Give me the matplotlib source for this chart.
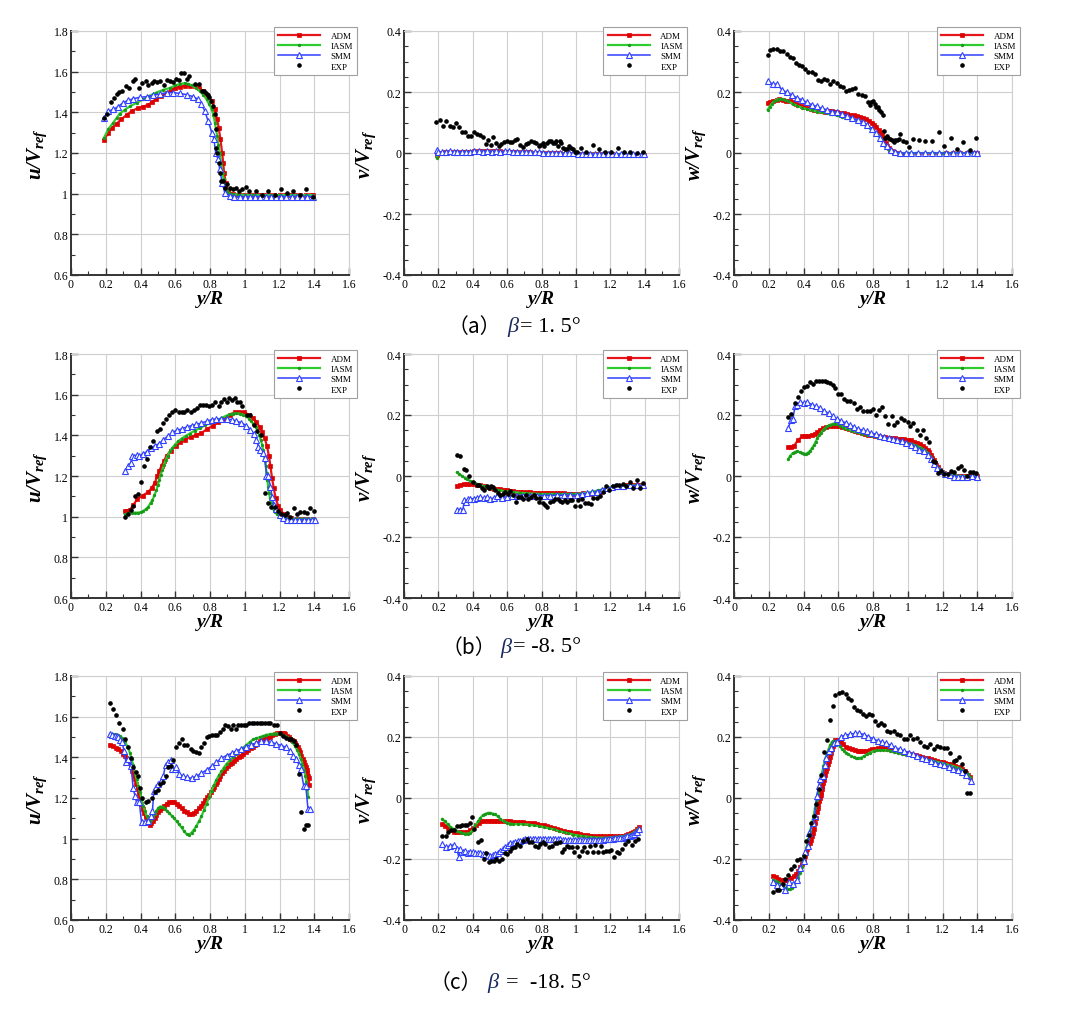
import matplotlib
matplotlib.use('Agg')
import matplotlib.pyplot as plt
from matplotlib.ticker import MultipleLocator, FuncFormatter

plt.rcParams['font.family'] = ['Liberation Serif', 'DejaVu Serif']
plt.rcParams['mathtext.fontset'] = 'custom'
plt.rcParams['mathtext.rm'] = 'Liberation Serif'
plt.rcParams['mathtext.it'] = 'Liberation Serif:italic'
plt.rcParams['mathtext.bf'] = 'Liberation Serif:bold:italic'
plt.rcParams['axes.unicode_minus'] = False

series_names = ['ADM', 'IASM', 'SMM', 'EXP']
x_ticks = [0, 0.2, 0.4, 0.6, 0.8, 1.0, 1.2, 1.4, 1.6]
u_ticks = [0.6, 0.8, 1.0, 1.2, 1.4, 1.6, 1.8]
vw_ticks = [-0.4, -0.2, 0.0, 0.2, 0.4]
caption_labels = ['（a）', '（b）', '（c）']
caption_values = ['= 1. 5°', '= -8. 5°', '=  -18. 5°']

# ---------------- (a) beta = 1.5 ----------------
ua_adm = [(0.19,1.264),(0.215,1.30),(0.238,1.325),(0.262,1.344),(0.29,1.366),(0.32,1.387),(0.35,1.407),
          (0.383,1.42),(0.416,1.428),(0.445,1.438),(0.466,1.45),(0.49,1.467),(0.52,1.48),(0.55,1.493),
          (0.573,1.51),(0.60,1.52),(0.627,1.526),(0.655,1.53),(0.684,1.53),(0.713,1.53),(0.736,1.518),
          (0.76,1.505),(0.784,1.485),(0.81,1.456),(0.828,1.415),(0.841,1.366),(0.85,1.325),(0.86,1.267),
          (0.87,1.20),(0.876,1.152),(0.881,1.103),(0.891,1.054),(0.904,1.013),(0.933,0.997),(0.96,0.995),
          (0.99,0.994),(1.02,0.994),(1.05,0.993),(1.08,0.993),(1.11,0.993),(1.14,0.993),(1.17,0.993),
          (1.20,0.993),(1.23,0.993),(1.26,0.993),(1.29,0.993),(1.32,0.993),(1.35,0.993),(1.38,0.993),(1.395,0.993)]
ua_iasm = [(0.19,1.275),(0.215,1.318),(0.243,1.349),(0.262,1.372),(0.28,1.393),(0.31,1.413),(0.34,1.43),
           (0.38,1.448),(0.416,1.464),(0.45,1.48),(0.49,1.497),(0.53,1.51),(0.57,1.52),(0.60,1.532),
           (0.627,1.54),(0.655,1.543),(0.675,1.54),(0.694,1.533),(0.72,1.52),(0.74,1.505),(0.76,1.487),
           (0.78,1.464),(0.795,1.44),(0.81,1.415),(0.82,1.385),(0.828,1.349),(0.835,1.318),(0.841,1.284),
           (0.848,1.24),(0.856,1.20),(0.864,1.15),(0.872,1.103),(0.878,1.07),(0.885,1.038),(0.895,1.017),
           (0.904,1.005),(0.92,0.999),(0.933,0.997),(0.96,0.995),(1.0,0.994),(1.05,0.993),(1.10,0.993),
           (1.15,0.993),(1.20,0.993),(1.25,0.993),(1.30,0.993),(1.35,0.993),(1.395,0.993)]
ua_smm = [(0.19,1.374),(0.215,1.405),(0.243,1.415),(0.272,1.428),(0.30,1.448),(0.33,1.459),(0.358,1.467),
          (0.397,1.474),(0.435,1.477),(0.473,1.484),(0.512,1.49),(0.55,1.497),(0.588,1.497),(0.627,1.493),
          (0.665,1.487),(0.703,1.477),(0.732,1.464),(0.751,1.439),(0.77,1.407),(0.789,1.357),(0.812,1.297),
          (0.822,1.27),(0.833,1.20),(0.847,1.169),(0.856,1.12),(0.87,1.054),(0.885,1.005),(0.914,0.989),
          (0.94,0.985),(0.97,0.985),(1.0,0.985),(1.03,0.985),(1.06,0.985),(1.09,0.986),(1.12,0.986),
          (1.15,0.986),(1.18,0.986),(1.21,0.986),(1.24,0.986),(1.27,0.986),(1.30,0.986),(1.33,0.986),
          (1.36,0.986),(1.395,0.986)]
ua_exp = [(0.19,1.372),(0.209,1.393),(0.228,1.451),(0.247,1.47),(0.262,1.489),(0.276,1.50),(0.295,1.505),
          (0.316,1.53),(0.335,1.521),(0.354,1.554),(0.37,1.562),(0.39,1.521),(0.406,1.543),(0.429,1.552),
          (0.445,1.533),(0.464,1.546),(0.479,1.554),(0.496,1.551),(0.514,1.552),(0.535,1.533),(0.55,1.559),
          (0.569,1.552),(0.586,1.551),(0.604,1.566),(0.621,1.557),(0.634,1.592),(0.65,1.592),(0.665,1.566),
          (0.678,1.579),(0.713,1.541),(0.738,1.541),(0.755,1.503),(0.768,1.503),(0.778,1.493),(0.789,1.484),
          (0.795,1.475),(0.807,1.454),(0.818,1.431),(0.826,1.39),(0.832,1.316),(0.837,1.226),(0.841,1.20),
          (0.849,1.152),(0.856,1.103),(0.864,1.062),(0.876,1.062),(0.887,1.03),(0.895,1.046),(0.914,1.03),
          (0.933,1.021),(0.952,1.03),(0.968,1.013),(0.985,1.021),(1.006,1.033),(1.025,1.013),(1.062,1.013),
          (1.10,0.992),(1.136,1.013),(1.173,0.993),(1.207,1.025),(1.244,1.002),(1.278,1.013),(1.316,0.992),
          (1.355,1.025),(1.393,0.985)]

va_adm = [(0.19,-0.005),(0.21,0.0),(0.235,0.002),(0.26,0.002),(0.285,0.003),(0.31,0.003),(0.335,0.004),
          (0.36,0.004),(0.385,0.004),(0.41,0.005),(0.435,0.005),(0.46,0.005),(0.485,0.005),(0.51,0.005),
          (0.535,0.005),(0.56,0.005),(0.585,0.004),(0.61,0.004),(0.635,0.004),(0.66,0.003),(0.685,0.003),
          (0.71,0.002),(0.735,0.002),(0.76,0.001),(0.785,0.001),(0.81,0.0),(0.835,0.0),(0.86,-0.001),
          (0.885,-0.001),(0.91,-0.001),(0.935,-0.002),(0.96,-0.002),(0.985,-0.002),(1.01,-0.002),
          (1.035,-0.003),(1.06,-0.003),(1.085,-0.003),(1.11,-0.003),(1.135,-0.004),(1.16,-0.004),
          (1.185,-0.004),(1.21,-0.004),(1.235,-0.005),(1.26,-0.005),(1.285,-0.005),(1.31,-0.005),
          (1.335,-0.005),(1.36,-0.005),(1.385,-0.005),(1.395,-0.005)]
va_iasm = [(0.19,-0.015),(0.20,-0.004),(0.22,0.0),(0.25,0.001),(0.30,0.002),(0.35,0.003),(0.40,0.004),
           (0.45,0.004),(0.50,0.004),(0.55,0.004),(0.60,0.003),(0.65,0.003),(0.70,0.002),(0.75,0.001),
           (0.80,0.0),(0.85,-0.001),(0.90,-0.001),(0.95,-0.002),(1.0,-0.002),(1.05,-0.003),(1.10,-0.003),
           (1.15,-0.003),(1.20,-0.004),(1.25,-0.004),(1.30,-0.004),(1.35,-0.005),(1.395,-0.005)]
va_smm = [(0.19,0.01),(0.20,0.003),(0.22,0.002),(0.245,0.002),(0.265,0.006),(0.29,0.003),(0.31,0.004),
          (0.335,0.004),(0.36,0.003),(0.385,0.004),(0.41,0.006),(0.435,0.007),(0.46,0.004),(0.485,0.008),
          (0.51,0.004),(0.535,0.005),(0.56,0.004),(0.585,0.005),(0.61,0.005),(0.635,0.004),(0.66,0.004),
          (0.685,0.003),(0.71,0.003),(0.735,0.002),(0.76,0.002),(0.785,0.002),(0.81,0.001),(0.835,0.001),
          (0.86,0.0),(0.885,0.0),(0.91,0.0),(0.935,-0.001),(0.96,-0.001),(0.985,-0.001),(1.01,-0.002),
          (1.035,-0.002),(1.06,-0.002),(1.085,-0.002),(1.11,-0.003),(1.135,-0.003),(1.16,-0.003),
          (1.185,-0.003),(1.21,-0.003),(1.235,-0.004),(1.26,-0.004),(1.285,-0.004),(1.31,-0.004),
          (1.335,-0.004),(1.36,-0.004),(1.385,-0.004),(1.395,-0.004)]
va_exp = [(0.188,0.101),(0.207,0.109),(0.227,0.088),(0.246,0.104),(0.265,0.09),(0.283,0.084),(0.302,0.10),
          (0.322,0.084),(0.337,0.07),(0.354,0.07),(0.372,0.057),(0.389,0.057),(0.405,0.068),(0.424,0.061),
          (0.44,0.059),(0.457,0.051),(0.477,0.03),(0.49,0.041),(0.507,0.027),(0.517,0.054),(0.535,0.034),
          (0.55,0.024),(0.566,0.031),(0.583,0.037),(0.599,0.038),(0.614,0.037),(0.628,0.037),(0.647,0.042),
          (0.66,0.045),(0.676,0.025),(0.692,0.02),(0.709,0.031),(0.724,0.034),(0.74,0.04),(0.755,0.037),
          (0.769,0.032),(0.783,0.023),(0.794,0.025),(0.808,0.032),(0.817,0.023),(0.831,0.032),(0.843,0.038),
          (0.854,0.04),(0.866,0.032),(0.876,0.034),(0.885,0.039),(0.895,0.023),(0.905,0.039),(0.916,0.032),
          (0.924,0.018),(0.936,0.014),(0.947,0.012),(0.959,0.023),(0.97,0.018),(0.982,0.012),(0.996,0.004),
          (1.009,0.003),(1.029,0.016),(1.06,0.003),(1.102,0.025),(1.137,0.012),(1.17,0.003),(1.203,0.004),
          (1.244,0.018),(1.28,0.003),(1.315,0.004),(1.354,0.001),(1.393,0.004)]

wa_adm = [(0.194,0.164),(0.21,0.168),(0.227,0.172),(0.245,0.175),(0.261,0.177),(0.28,0.175),(0.30,0.172),
          (0.32,0.169),(0.338,0.166),(0.355,0.161),(0.371,0.157),(0.39,0.154),(0.405,0.151),(0.425,0.147),
          (0.442,0.144),(0.462,0.142),(0.482,0.14),(0.503,0.138),(0.524,0.136),(0.545,0.138),(0.563,0.137),
          (0.58,0.135),(0.595,0.133),(0.615,0.132),(0.634,0.131),(0.65,0.128),(0.668,0.126),(0.69,0.123),
          (0.707,0.12),(0.727,0.117),(0.745,0.115),(0.762,0.111),(0.778,0.106),(0.793,0.10),(0.807,0.093),
          (0.82,0.085),(0.832,0.076),(0.842,0.068),(0.851,0.06),(0.858,0.05),(0.866,0.041),(0.873,0.032),
          (0.88,0.024),(0.89,0.017),(0.899,0.011),(0.91,0.006),(0.922,0.002),(0.94,0.0),(0.98,-0.002),
          (1.02,-0.002),(1.06,-0.002),(1.10,-0.002),(1.14,-0.002),(1.18,-0.002),(1.22,-0.001),(1.26,-0.001),
          (1.30,-0.001),(1.34,0.0),(1.38,0.0),(1.397,0.0)]
wa_iasm = [(0.194,0.142),(0.205,0.152),(0.217,0.162),(0.23,0.169),(0.246,0.175),(0.26,0.177),(0.275,0.177),
           (0.295,0.173),(0.313,0.169),(0.337,0.162),(0.361,0.155),(0.39,0.149),(0.419,0.144),(0.448,0.14),
           (0.476,0.136),(0.505,0.133),(0.534,0.131),(0.563,0.127),(0.592,0.123),(0.62,0.119),(0.65,0.115),
           (0.68,0.11),(0.707,0.106),(0.73,0.101),(0.749,0.096),(0.768,0.089),(0.784,0.082),(0.80,0.074),
           (0.816,0.066),(0.83,0.058),(0.841,0.051),(0.85,0.042),(0.86,0.033),(0.87,0.024),(0.88,0.016),
           (0.89,0.009),(0.903,0.004),(0.915,0.001),(0.928,0.0),(0.96,0.0),(1.0,0.0),(1.05,0.0),(1.10,0.0),
           (1.15,0.0),(1.20,0.0),(1.25,0.0),(1.30,0.0),(1.35,0.0),(1.397,0.0)]
wa_smm = [(0.194,0.236),(0.223,0.226),(0.25,0.226),(0.275,0.207),(0.303,0.199),(0.332,0.191),(0.361,0.181),
          (0.39,0.175),(0.419,0.166),(0.448,0.158),(0.476,0.153),(0.505,0.146),(0.534,0.142),(0.563,0.136),
          (0.595,0.134),(0.624,0.128),(0.653,0.12),(0.682,0.115),(0.711,0.107),(0.74,0.102),(0.765,0.093),
          (0.793,0.079),(0.818,0.066),(0.841,0.049),(0.86,0.033),(0.88,0.022),(0.903,0.009),(0.928,0.003),
          (0.957,0.0),(0.99,0.0),(1.02,0.0),(1.06,0.0),(1.10,0.0),(1.14,0.0),(1.18,0.0),(1.22,0.0),
          (1.26,0.0),(1.30,0.0),(1.34,0.0),(1.38,0.0),(1.397,0.0)]
wa_exp = [(0.194,0.321),(0.207,0.338),(0.227,0.342),(0.246,0.342),(0.265,0.334),(0.284,0.333),(0.303,0.323),
          (0.323,0.314),(0.342,0.31),(0.357,0.295),(0.376,0.287),(0.392,0.286),(0.411,0.275),(0.428,0.266),
          (0.447,0.265),(0.466,0.26),(0.482,0.24),(0.499,0.236),(0.518,0.243),(0.538,0.24),(0.553,0.226),
          (0.572,0.235),(0.592,0.229),(0.611,0.221),(0.626,0.215),(0.645,0.203),(0.661,0.207),(0.678,0.211),
          (0.697,0.213),(0.716,0.194),(0.736,0.191),(0.755,0.186),(0.77,0.166),(0.78,0.158),(0.789,0.168),
          (0.799,0.169),(0.809,0.162),(0.818,0.151),(0.828,0.15),(0.837,0.142),(0.847,0.135),(0.855,0.123),
          (0.861,0.072),(0.87,0.049),(0.88,0.055),(0.889,0.049),(0.899,0.046),(0.909,0.041),(0.918,0.035),
          (0.928,0.044),(0.937,0.041),(0.947,0.046),(0.957,0.063),(0.972,0.038),(0.991,0.037),(1.01,0.019),
          (1.03,0.046),(1.064,0.041),(1.10,0.039),(1.139,0.04),(1.178,0.069),(1.21,0.022),(1.249,0.048),
          (1.283,0.014),(1.318,0.036),(1.356,0.011),(1.393,0.048)]

# ---------------- (b) beta = -8.5 ----------------
ub_adm = [(0.31,1.026),(0.325,1.03),(0.339,1.033),(0.358,1.057),(0.381,1.086),(0.412,1.104),(0.441,1.119),
          (0.464,1.14),(0.483,1.168),(0.496,1.198),(0.508,1.226),(0.521,1.25),(0.535,1.275),(0.55,1.30),
          (0.573,1.324),(0.602,1.349),(0.627,1.365),(0.655,1.379),(0.688,1.392),(0.722,1.402),(0.751,1.412),
          (0.784,1.431),(0.818,1.448),(0.847,1.464),(0.88,1.48),(0.914,1.502),(0.943,1.514),(0.966,1.515),
          (0.994,1.514),(1.023,1.502),(1.048,1.486),(1.067,1.464),(1.086,1.441),(1.102,1.415),(1.115,1.387),
          (1.128,1.346),(1.14,1.296),(1.148,1.247),(1.157,1.19),(1.167,1.14),(1.178,1.09),(1.192,1.054),
          (1.205,1.033),(1.224,1.013),(1.245,1.0),(1.268,0.992),(1.30,0.99),(1.33,0.99),(1.36,0.99),(1.395,0.99)]
ub_iasm = [(0.31,1.011),(0.33,1.016),(0.349,1.02),(0.368,1.02),(0.387,1.02),(0.40,1.022),(0.416,1.028),
           (0.432,1.038),(0.445,1.049),(0.458,1.068),(0.469,1.082),(0.48,1.105),(0.492,1.131),(0.50,1.156),
           (0.508,1.181),(0.516,1.205),(0.525,1.23),(0.535,1.255),(0.544,1.277),(0.556,1.30),(0.569,1.321),
           (0.583,1.338),(0.598,1.354),(0.616,1.37),(0.636,1.384),(0.66,1.397),(0.684,1.409),(0.712,1.423),
           (0.742,1.436),(0.77,1.449),(0.799,1.461),(0.823,1.469),(0.847,1.477),(0.87,1.487),(0.895,1.497),
           (0.915,1.503),(0.933,1.507),(0.952,1.508),(0.971,1.507),(0.99,1.502),(1.01,1.494),(1.025,1.482),
           (1.038,1.469),(1.05,1.456),(1.063,1.441),(1.073,1.423),(1.082,1.403),(1.092,1.378),(1.10,1.354),
           (1.105,1.33),(1.11,1.305),(1.116,1.275),(1.121,1.247),(1.126,1.215),(1.13,1.181),(1.135,1.148),
           (1.14,1.115),(1.146,1.09),(1.152,1.066),(1.16,1.048),(1.167,1.033),(1.176,1.022),(1.186,1.013),
           (1.20,1.005),(1.211,1.0),(1.225,0.995),(1.24,0.992),(1.27,0.99),(1.30,0.99),(1.33,0.99),
           (1.36,0.99),(1.395,0.99)]
ub_smm = [(0.31,1.226),(0.33,1.25),(0.343,1.263),(0.352,1.296),(0.364,1.293),(0.377,1.304),(0.393,1.296),
          (0.412,1.309),(0.435,1.319),(0.458,1.337),(0.483,1.349),(0.508,1.359),(0.531,1.379),(0.56,1.398),
          (0.584,1.415),(0.611,1.425),(0.636,1.431),(0.665,1.441),(0.694,1.448),(0.722,1.454),(0.751,1.461),
          (0.78,1.469),(0.809,1.477),(0.837,1.481),(0.866,1.481),(0.895,1.481),(0.924,1.477),(0.952,1.471),
          (0.981,1.461),(1.01,1.448),(1.033,1.428),(1.054,1.407),(1.067,1.379),(1.079,1.343),(1.09,1.329),
          (1.106,1.313),(1.117,1.288),(1.125,1.201),(1.136,1.198),(1.148,1.148),(1.157,1.099),(1.167,1.058),
          (1.182,1.038),(1.201,1.008),(1.22,0.992),(1.243,0.984),(1.265,0.984),(1.29,0.984),(1.315,0.985),
          (1.34,0.985),(1.365,0.985),(1.385,0.985),(1.403,0.985)]
ub_exp = [(0.31,1.0),(0.33,1.013),(0.345,1.033),(0.358,1.054),(0.37,1.102),(0.385,1.112),(0.402,1.17),
          (0.42,1.25),(0.437,1.283),(0.456,1.342),(0.473,1.374),(0.494,1.42),(0.512,1.431),(0.529,1.461),
          (0.546,1.482),(0.563,1.502),(0.582,1.514),(0.60,1.523),(0.619,1.514),(0.636,1.514),(0.651,1.514),
          (0.669,1.523),(0.688,1.515),(0.709,1.523),(0.728,1.535),(0.743,1.551),(0.759,1.551),(0.776,1.551),
          (0.793,1.543),(0.811,1.551),(0.83,1.563),(0.849,1.543),(0.864,1.563),(0.883,1.579),(0.899,1.563),
          (0.91,1.584),(0.925,1.576),(0.943,1.584),(0.954,1.563),(0.971,1.563),(0.987,1.543),(1.014,1.502),
          (1.029,1.502),(1.052,1.453),(1.071,1.42),(1.096,1.403),(1.119,1.118),(1.136,1.069),(1.153,1.049),
          (1.173,1.049),(1.192,1.028),(1.211,1.013),(1.23,1.008),(1.243,1.016),(1.263,1.0),(1.282,1.041),
          (1.301,1.013),(1.32,1.021),(1.339,1.021),(1.358,1.016),(1.378,1.041),(1.397,1.03)]

vb_adm = [(0.308,-0.032),(0.327,-0.029),(0.347,-0.027),(0.366,-0.026),(0.385,-0.025),(0.405,-0.027),
          (0.424,-0.029),(0.444,-0.031),(0.463,-0.034),(0.482,-0.037),(0.502,-0.039),(0.521,-0.041),
          (0.54,-0.042),(0.56,-0.044),(0.579,-0.045),(0.599,-0.047),(0.618,-0.049),(0.637,-0.05),
          (0.657,-0.051),(0.676,-0.052),(0.695,-0.053),(0.715,-0.054),(0.734,-0.054),(0.754,-0.055),
          (0.773,-0.055),(0.792,-0.055),(0.812,-0.055),(0.831,-0.055),(0.85,-0.055),(0.87,-0.056),
          (0.889,-0.057),(0.908,-0.057),(0.928,-0.057),(0.947,-0.058),(0.967,-0.058),(0.986,-0.058),
          (1.005,-0.058),(1.025,-0.058),(1.044,-0.057),(1.063,-0.058),(1.083,-0.059),(1.102,-0.057),
          (1.122,-0.054),(1.141,-0.051),(1.16,-0.048),(1.18,-0.043),(1.199,-0.039),(1.218,-0.036),
          (1.238,-0.034),(1.257,-0.033),(1.277,-0.032),(1.296,-0.031),(1.315,-0.031),(1.335,-0.031),
          (1.354,-0.031),(1.373,-0.031),(1.393,-0.031)]
vb_iasm = [(0.308,0.012),(0.322,0.006),(0.337,0.001),(0.352,-0.005),(0.366,-0.01),(0.385,-0.016),
           (0.405,-0.021),(0.424,-0.026),(0.444,-0.03),(0.463,-0.034),(0.482,-0.037),(0.502,-0.04),
           (0.521,-0.042),(0.55,-0.046),(0.579,-0.049),(0.608,-0.051),(0.637,-0.053),(0.676,-0.055),
           (0.715,-0.057),(0.754,-0.058),(0.792,-0.059),(0.831,-0.059),(0.87,-0.059),(0.908,-0.059),
           (0.947,-0.059),(0.986,-0.059),(1.025,-0.058),(1.063,-0.055),(1.102,-0.051),(1.131,-0.047),
           (1.16,-0.043),(1.189,-0.038),(1.218,-0.034),(1.257,-0.032),(1.296,-0.031),(1.345,-0.031),
           (1.393,-0.031)]
vb_smm = [(0.308,-0.11),(0.327,-0.11),(0.343,-0.11),(0.351,-0.079),(0.362,-0.084),(0.37,-0.076),
          (0.385,-0.076),(0.405,-0.074),(0.424,-0.073),(0.444,-0.068),(0.463,-0.073),(0.482,-0.068),
          (0.502,-0.076),(0.521,-0.072),(0.54,-0.065),(0.569,-0.071),(0.599,-0.068),(0.628,-0.065),
          (0.657,-0.064),(0.695,-0.064),(0.734,-0.064),(0.773,-0.064),(0.812,-0.064),(0.85,-0.064),
          (0.889,-0.063),(0.928,-0.063),(0.967,-0.063),(1.005,-0.063),(1.034,-0.06),(1.063,-0.057),
          (1.092,-0.054),(1.122,-0.051),(1.15,-0.045),(1.18,-0.04),(1.209,-0.037),(1.238,-0.034),
          (1.277,-0.032),(1.315,-0.031),(1.354,-0.031),(1.393,-0.031)]
vb_exp = [(0.31,0.07),(0.327,0.065),(0.347,0.023),(0.362,0.019),(0.378,0.001),(0.401,-0.021),(0.424,-0.031),
          (0.436,-0.031),(0.451,-0.04),(0.467,-0.045),(0.482,-0.034),(0.496,-0.04),(0.508,-0.032),
          (0.517,-0.037),(0.531,-0.045),(0.544,-0.057),(0.56,-0.062),(0.575,-0.059),(0.589,-0.054),
          (0.604,-0.059),(0.618,-0.048),(0.633,-0.062),(0.651,-0.084),(0.666,-0.07),(0.682,-0.068),
          (0.695,-0.076),(0.711,-0.062),(0.724,-0.076),(0.74,-0.068),(0.754,-0.062),(0.769,-0.071),
          (0.783,-0.084),(0.794,-0.071),(0.806,-0.088),(0.821,-0.095),(0.833,-0.101),(0.85,-0.086),
          (0.864,-0.081),(0.879,-0.076),(0.895,-0.076),(0.908,-0.081),(0.922,-0.084),(0.938,-0.078),
          (0.951,-0.086),(0.967,-0.078),(0.98,-0.078),(0.996,-0.098),(1.011,-0.078),(1.025,-0.098),
          (1.038,-0.076),(1.054,-0.09),(1.069,-0.088),(1.087,-0.093),(1.102,-0.073),(1.122,-0.073),
          (1.141,-0.064),(1.156,-0.051),(1.176,-0.034),(1.195,-0.045),(1.214,-0.034),(1.234,-0.029),
          (1.253,-0.031),(1.273,-0.025),(1.292,-0.034),(1.315,-0.021),(1.335,-0.04),(1.354,-0.012),
          (1.373,-0.04),(1.393,-0.023)]

wb_adm = [(0.313,0.094),(0.33,0.096),(0.346,0.099),(0.367,0.117),(0.394,0.13),(0.41,0.131),(0.428,0.132),
          (0.447,0.135),(0.467,0.138),(0.48,0.145),(0.496,0.152),(0.513,0.156),(0.53,0.16),(0.55,0.163),
          (0.569,0.165),(0.587,0.165),(0.605,0.163),(0.624,0.16),(0.643,0.157),(0.66,0.154),(0.678,0.152),
          (0.697,0.148),(0.716,0.145),(0.735,0.142),(0.755,0.139),(0.774,0.136),(0.793,0.133),(0.812,0.131),
          (0.832,0.13),(0.851,0.128),(0.87,0.127),(0.89,0.126),(0.909,0.125),(0.928,0.123),(0.947,0.122),
          (0.963,0.121),(0.98,0.121),(1.0,0.119),(1.018,0.117),(1.035,0.113),(1.053,0.108),(1.07,0.104),
          (1.085,0.099),(1.10,0.093),(1.114,0.086),(1.125,0.078),(1.135,0.069),(1.142,0.06),(1.149,0.051),
          (1.157,0.044),(1.164,0.037),(1.175,0.028),(1.187,0.02),(1.198,0.014),(1.21,0.009),(1.225,0.006),
          (1.241,0.004),(1.26,0.002),(1.279,0.001),(1.30,0.0),(1.318,0.0),(1.34,0.0),(1.36,0.0),(1.38,0.0),
          (1.398,0.0)]
wb_iasm = [(0.313,0.057),(0.325,0.067),(0.338,0.075),(0.352,0.079),(0.365,0.081),(0.378,0.078),(0.39,0.075),
           (0.403,0.073),(0.415,0.073),(0.427,0.077),(0.438,0.083),(0.45,0.092),(0.461,0.102),(0.47,0.113),
           (0.48,0.124),(0.49,0.133),(0.50,0.141),(0.512,0.15),(0.524,0.157),(0.538,0.163),(0.553,0.168),
           (0.567,0.171),(0.582,0.172),(0.596,0.169),(0.611,0.165),(0.63,0.159),(0.649,0.154),(0.678,0.148),
           (0.707,0.143),(0.736,0.139),(0.765,0.136),(0.793,0.132),(0.822,0.128),(0.851,0.125),(0.88,0.121),
           (0.909,0.118),(0.937,0.116),(0.966,0.112),(0.995,0.108),(1.024,0.104),(1.053,0.099),(1.078,0.092),
           (1.10,0.084),(1.115,0.075),(1.129,0.064),(1.14,0.055),(1.149,0.048),(1.158,0.04),(1.168,0.031),
           (1.18,0.024),(1.191,0.018),(1.204,0.013),(1.216,0.009),(1.23,0.006),(1.245,0.004),(1.264,0.002),
           (1.283,0.001),(1.31,0.0),(1.341,0.0),(1.37,0.0),(1.398,0.0)]
wb_smm = [(0.313,0.157),(0.327,0.185),(0.338,0.187),(0.352,0.229),(0.365,0.234),(0.38,0.242),(0.40,0.24),
          (0.423,0.242),(0.448,0.234),(0.473,0.229),(0.496,0.223),(0.519,0.214),(0.544,0.205),(0.569,0.196),
          (0.592,0.187),(0.617,0.181),(0.642,0.174),(0.667,0.167),(0.692,0.161),(0.716,0.154),(0.741,0.15),
          (0.766,0.146),(0.791,0.141),(0.816,0.137),(0.841,0.132),(0.866,0.128),(0.891,0.125),(0.916,0.121),
          (0.941,0.117),(0.966,0.114),(0.991,0.108),(1.016,0.103),(1.041,0.095),(1.066,0.086),(1.091,0.081),
          (1.114,0.07),(1.133,0.057),(1.149,0.039),(1.168,0.026),(1.191,0.015),(1.216,0.007),(1.241,0.003),
          (1.264,-0.002),(1.287,-0.002),(1.312,-0.002),(1.341,-0.002),(1.37,0.0),(1.398,-0.002)]
wb_exp = [(0.313,0.194),(0.33,0.202),(0.35,0.24),(0.367,0.26),(0.386,0.278),(0.401,0.291),(0.419,0.295),
          (0.438,0.309),(0.457,0.302),(0.474,0.311),(0.49,0.311),(0.505,0.31),(0.521,0.31),(0.538,0.308),
          (0.553,0.304),(0.569,0.30),(0.584,0.289),(0.599,0.27),(0.615,0.268),(0.634,0.253),(0.649,0.247),
          (0.668,0.246),(0.688,0.24),(0.707,0.22),(0.726,0.225),(0.745,0.214),(0.764,0.212),(0.784,0.212),
          (0.799,0.221),(0.816,0.20),(0.834,0.217),(0.851,0.225),(0.87,0.198),(0.889,0.17),(0.909,0.198),
          (0.922,0.166),(0.941,0.178),(0.96,0.19),(0.98,0.183),(0.999,0.177),(1.014,0.163),(1.033,0.174),
          (1.053,0.15),(1.072,0.136),(1.087,0.15),(1.106,0.125),(1.124,0.11),(1.143,0.05),(1.158,0.047),
          (1.172,0.009),(1.191,0.015),(1.21,0.008),(1.229,0.006),(1.249,0.015),(1.268,0.012),(1.287,0.026),
          (1.306,0.033),(1.322,0.02),(1.341,0.001),(1.36,0.012),(1.376,0.013),(1.395,0.009)]

# ---------------- (c) beta = -18.5 ----------------
uc_adm = [(0.224,1.461),(0.24,1.455),(0.257,1.448),(0.27,1.44),(0.285,1.43),(0.298,1.418),(0.31,1.405),
          (0.322,1.39),(0.333,1.376),(0.343,1.356),(0.352,1.335),(0.36,1.315),(0.368,1.294),(0.376,1.27),
          (0.383,1.244),(0.39,1.22),(0.397,1.195),(0.405,1.17),(0.412,1.146),(0.42,1.125),(0.429,1.105),
          (0.44,1.085),(0.452,1.068),(0.463,1.075),(0.473,1.085),(0.483,1.10),(0.492,1.116),(0.502,1.13),
          (0.512,1.141),(0.524,1.152),(0.536,1.162),(0.55,1.172),(0.565,1.179),(0.58,1.181),(0.594,1.179),
          (0.608,1.172),(0.623,1.162),(0.637,1.15),(0.651,1.138),(0.665,1.13),(0.68,1.121),(0.695,1.121),
          (0.709,1.126),(0.722,1.136),(0.736,1.149),(0.749,1.162),(0.761,1.175),(0.773,1.19),(0.784,1.203),
          (0.795,1.215),(0.805,1.228),(0.815,1.242),(0.824,1.256),(0.833,1.268),(0.841,1.28),(0.85,1.295),
          (0.86,1.31),(0.87,1.323),(0.879,1.335),(0.891,1.346),(0.904,1.356),(0.917,1.365),(0.929,1.373),
          (0.94,1.382),(0.952,1.392),(0.965,1.40),(0.977,1.409),(0.991,1.417),(1.006,1.425),(1.02,1.435),
          (1.035,1.445),(1.046,1.453),(1.058,1.461),(1.072,1.47),(1.086,1.478),(1.10,1.485),(1.115,1.491),
          (1.13,1.497),(1.144,1.502),(1.158,1.509),(1.173,1.516),(1.187,1.519),(1.201,1.52),(1.213,1.521),
          (1.224,1.52),(1.234,1.514),(1.244,1.507),(1.254,1.50),(1.263,1.491),(1.273,1.485),(1.282,1.478),
          (1.29,1.47),(1.297,1.461),(1.304,1.45),(1.311,1.438),(1.318,1.424),(1.326,1.409),(1.333,1.393),
          (1.339,1.376),(1.345,1.363),(1.351,1.351),(1.356,1.336),(1.36,1.322),(1.365,1.31),(1.37,1.297),
          (1.37,1.264)]
uc_iasm = [(0.224,1.511),(0.238,1.513),(0.253,1.514),(0.268,1.51),(0.282,1.504),(0.296,1.493),(0.31,1.478),
           (0.325,1.453),(0.339,1.422),(0.349,1.39),(0.358,1.36),(0.368,1.327),(0.377,1.294),(0.387,1.26),
           (0.397,1.228),(0.406,1.195),(0.416,1.162),(0.425,1.136),(0.435,1.113),(0.445,1.095),(0.454,1.08),
           (0.463,1.09),(0.473,1.105),(0.482,1.122),(0.492,1.138),(0.502,1.15),(0.512,1.158),(0.521,1.158),
           (0.531,1.154),(0.54,1.147),(0.55,1.138),(0.565,1.126),(0.579,1.113),(0.594,1.10),(0.608,1.085),
           (0.622,1.07),(0.636,1.055),(0.65,1.038),(0.665,1.022),(0.68,1.02),(0.694,1.03),(0.708,1.045),
           (0.722,1.063),(0.737,1.086),(0.751,1.11),(0.765,1.14),(0.78,1.17),(0.794,1.203),(0.809,1.236),
           (0.823,1.264),(0.837,1.29),(0.851,1.311),(0.866,1.331),(0.88,1.35),(0.895,1.368),(0.914,1.385),
           (0.933,1.401),(0.952,1.417),(0.971,1.433),(0.99,1.447),(1.01,1.461),(1.029,1.475),(1.048,1.488),
           (1.067,1.494),(1.086,1.499),(1.105,1.505),(1.125,1.511),(1.144,1.514),(1.163,1.516),(1.182,1.517),
           (1.201,1.516),(1.215,1.512),(1.23,1.507),(1.245,1.498),(1.259,1.488),(1.274,1.474),(1.288,1.458),
           (1.30,1.438),(1.312,1.417),(1.322,1.393),(1.332,1.368),(1.341,1.34),(1.349,1.31),(1.355,1.277),
           (1.36,1.244),(1.366,1.206)]
uc_smm = [(0.224,1.516),(0.238,1.512),(0.253,1.507),(0.262,1.503),(0.272,1.499),(0.284,1.487),(0.295,1.474),
          (0.305,1.43),(0.316,1.376),(0.33,1.392),(0.345,1.359),(0.358,1.248),(0.368,1.21),(0.377,1.179),
          (0.393,1.179),(0.406,1.08),(0.425,1.08),(0.445,1.088),(0.458,1.113),(0.469,1.138),(0.477,1.236),
          (0.489,1.252),(0.502,1.269),(0.517,1.285),(0.531,1.307),(0.544,1.363),(0.56,1.376),(0.573,1.387),
          (0.584,1.343),(0.598,1.343),(0.607,1.351),(0.623,1.318),(0.646,1.307),(0.669,1.302),(0.694,1.297),
          (0.722,1.307),(0.751,1.322),(0.78,1.338),(0.809,1.356),(0.837,1.376),(0.866,1.396),(0.895,1.409),
          (0.924,1.42),(0.952,1.432),(0.981,1.442),(1.01,1.453),(1.038,1.463),(1.067,1.471),(1.096,1.478),
          (1.125,1.478),(1.153,1.474),(1.182,1.466),(1.211,1.458),(1.236,1.45),(1.259,1.433),(1.278,1.409),
          (1.297,1.392),(1.312,1.363),(1.322,1.343),(1.339,1.261),(1.351,1.261),(1.364,1.146),(1.378,1.146)]
uc_exp = [(0.224,1.668),(0.243,1.639),(0.261,1.609),(0.278,1.57),(0.297,1.54),(0.312,1.488),(0.33,1.45),
          (0.345,1.397),(0.358,1.351),(0.372,1.33),(0.383,1.31),(0.397,1.248),(0.41,1.198),(0.429,1.179),
          (0.446,1.187),(0.466,1.198),(0.481,1.228),(0.498,1.239),(0.514,1.269),(0.531,1.28),(0.546,1.31),
          (0.561,1.351),(0.575,1.359),(0.588,1.389),(0.604,1.45),(0.619,1.471),(0.636,1.491),(0.651,1.461),
          (0.669,1.461),(0.688,1.442),(0.703,1.433),(0.719,1.428),(0.736,1.42),(0.751,1.45),(0.766,1.471),
          (0.782,1.499),(0.797,1.507),(0.812,1.511),(0.828,1.511),(0.841,1.511),(0.856,1.524),(0.872,1.537),
          (0.887,1.557),(0.902,1.552),(0.918,1.54),(0.933,1.56),(0.948,1.54),(0.964,1.56),(0.979,1.56),
          (0.994,1.56),(1.01,1.56),(1.025,1.57),(1.04,1.57),(1.056,1.57),(1.071,1.57),(1.086,1.57),
          (1.102,1.57),(1.117,1.57),(1.132,1.57),(1.148,1.57),(1.167,1.56),(1.186,1.56),(1.201,1.52),
          (1.22,1.504),(1.24,1.494),(1.255,1.491),(1.268,1.488),(1.282,1.478),(1.293,1.461),(1.311,1.318),
          (1.326,1.129),(1.341,1.047),(1.355,1.068),(1.364,1.068)]

vc_adm = [(0.223,-0.086),(0.238,-0.093),(0.254,-0.099),(0.27,-0.105),(0.289,-0.11),(0.308,-0.112),
          (0.327,-0.112),(0.346,-0.112),(0.366,-0.11),(0.385,-0.105),(0.401,-0.099),(0.418,-0.09),
          (0.434,-0.082),(0.45,-0.077),(0.467,-0.075),(0.486,-0.074),(0.506,-0.074),(0.523,-0.074),
          (0.54,-0.074),(0.56,-0.075),(0.579,-0.076),(0.598,-0.076),(0.618,-0.076),(0.637,-0.078),
          (0.657,-0.079),(0.676,-0.08),(0.695,-0.08),(0.715,-0.081),(0.734,-0.082),(0.754,-0.083),
          (0.773,-0.085),(0.792,-0.087),(0.812,-0.09),(0.831,-0.092),(0.85,-0.095),(0.87,-0.098),
          (0.889,-0.101),(0.908,-0.104),(0.928,-0.107),(0.947,-0.11),(0.967,-0.112),(0.986,-0.114),
          (1.005,-0.116),(1.025,-0.119),(1.044,-0.121),(1.063,-0.122),(1.083,-0.123),(1.102,-0.124),
          (1.122,-0.125),(1.141,-0.126),(1.16,-0.126),(1.18,-0.126),(1.199,-0.126),(1.218,-0.126),
          (1.238,-0.126),(1.257,-0.125),(1.277,-0.123),(1.292,-0.12),(1.306,-0.117),(1.318,-0.115),
          (1.331,-0.112),(1.343,-0.108),(1.354,-0.103),(1.37,-0.095)]
vc_iasm = [(0.223,-0.069),(0.238,-0.077),(0.254,-0.086),(0.27,-0.094),(0.289,-0.101),(0.306,-0.107),
           (0.323,-0.112),(0.34,-0.115),(0.356,-0.117),(0.37,-0.117),(0.385,-0.114),(0.40,-0.104),
           (0.415,-0.09),(0.43,-0.077),(0.444,-0.065),(0.458,-0.057),(0.473,-0.052),(0.488,-0.049),
           (0.502,-0.049),(0.516,-0.051),(0.531,-0.054),(0.545,-0.06),(0.56,-0.068),(0.58,-0.076),
           (0.599,-0.081),(0.618,-0.084),(0.637,-0.086),(0.666,-0.086),(0.695,-0.086),(0.725,-0.087),
           (0.754,-0.09),(0.783,-0.092),(0.812,-0.095),(0.841,-0.099),(0.87,-0.103),(0.899,-0.108),
           (0.928,-0.112),(0.957,-0.116),(0.986,-0.12),(1.015,-0.123),(1.044,-0.125),(1.073,-0.127),
           (1.102,-0.129),(1.131,-0.13),(1.16,-0.13),(1.189,-0.13),(1.218,-0.129),(1.248,-0.127),
           (1.277,-0.125),(1.30,-0.121),(1.325,-0.117),(1.348,-0.108),(1.37,-0.098)]
vc_smm = [(0.223,-0.151),(0.246,-0.162),(0.269,-0.156),(0.289,-0.154),(0.308,-0.167),(0.318,-0.192),
          (0.327,-0.167),(0.341,-0.178),(0.356,-0.173),(0.37,-0.181),(0.385,-0.176),(0.40,-0.178),
          (0.415,-0.181),(0.43,-0.18),(0.444,-0.181),(0.458,-0.183),(0.473,-0.184),(0.488,-0.187),
          (0.502,-0.189),(0.517,-0.187),(0.531,-0.184),(0.545,-0.179),(0.56,-0.173),(0.575,-0.168),
          (0.589,-0.162),(0.604,-0.155),(0.618,-0.148),(0.633,-0.146),(0.647,-0.145),(0.662,-0.142),
          (0.676,-0.14),(0.691,-0.137),(0.705,-0.134),(0.72,-0.134),(0.734,-0.134),(0.749,-0.134),
          (0.763,-0.134),(0.778,-0.134),(0.792,-0.134),(0.807,-0.135),(0.821,-0.136),(0.836,-0.136),
          (0.85,-0.136),(0.865,-0.136),(0.879,-0.136),(0.894,-0.136),(0.908,-0.136),(0.923,-0.137),
          (0.938,-0.137),(0.952,-0.137),(0.967,-0.137),(0.981,-0.137),(0.996,-0.137),(1.01,-0.137),
          (1.025,-0.137),(1.04,-0.137),(1.054,-0.137),(1.069,-0.137),(1.083,-0.137),(1.098,-0.137),
          (1.112,-0.137),(1.127,-0.137),(1.141,-0.137),(1.156,-0.137),(1.17,-0.136),(1.185,-0.135),
          (1.199,-0.134),(1.214,-0.133),(1.228,-0.132),(1.243,-0.132),(1.257,-0.132),(1.272,-0.131),
          (1.286,-0.129),(1.30,-0.126),(1.315,-0.123),(1.327,-0.12),(1.338,-0.117),(1.348,-0.113),
          (1.358,-0.11),(1.37,-0.101)]
vc_exp = [(0.223,-0.126),(0.242,-0.126),(0.258,-0.112),(0.273,-0.106),(0.289,-0.106),(0.308,-0.093),
          (0.323,-0.093),(0.339,-0.09),(0.353,-0.09),(0.366,-0.09),(0.382,-0.081),(0.395,-0.063),
          (0.41,-0.103),(0.428,-0.143),(0.447,-0.137),(0.463,-0.20),(0.478,-0.181),(0.492,-0.209),
          (0.508,-0.208),(0.521,-0.206),(0.537,-0.20),(0.554,-0.208),(0.57,-0.20),(0.585,-0.181),
          (0.599,-0.184),(0.614,-0.173),(0.628,-0.165),(0.643,-0.162),(0.657,-0.151),(0.676,-0.156),
          (0.695,-0.14),(0.715,-0.136),(0.73,-0.145),(0.744,-0.143),(0.763,-0.158),(0.777,-0.162),
          (0.792,-0.151),(0.808,-0.145),(0.823,-0.151),(0.841,-0.162),(0.86,-0.158),(0.876,-0.147),
          (0.889,-0.147),(0.905,-0.145),(0.918,-0.176),(0.932,-0.167),(0.947,-0.156),(0.961,-0.162),
          (0.976,-0.162),(0.99,-0.178),(1.005,-0.162),(1.021,-0.189),(1.036,-0.173),(1.05,-0.162),
          (1.065,-0.178),(1.083,-0.156),(1.098,-0.178),(1.114,-0.154),(1.129,-0.176),(1.145,-0.156),
          (1.16,-0.178),(1.176,-0.173),(1.191,-0.173),(1.207,-0.171),(1.222,-0.195),(1.238,-0.176),
          (1.253,-0.181),(1.269,-0.167),(1.284,-0.151),(1.306,-0.14),(1.325,-0.154),(1.344,-0.142),
          (1.36,-0.134)]

wc_adm = [(0.227,-0.255),(0.241,-0.26),(0.255,-0.266),(0.27,-0.268),(0.288,-0.27),(0.307,-0.268),
          (0.327,-0.263),(0.343,-0.257),(0.357,-0.25),(0.369,-0.24),(0.38,-0.227),(0.39,-0.215),
          (0.40,-0.202),(0.408,-0.19),(0.415,-0.178),(0.421,-0.168),(0.428,-0.159),(0.435,-0.148),
          (0.442,-0.137),(0.448,-0.126),(0.453,-0.115),(0.459,-0.10),(0.465,-0.082),(0.47,-0.065),
          (0.476,-0.047),(0.481,-0.034),(0.486,-0.021),(0.49,-0.01),(0.494,0.001),(0.498,0.01),
          (0.501,0.019),(0.505,0.029),(0.509,0.039),(0.513,0.049),(0.517,0.059),(0.52,0.068),(0.524,0.077),
          (0.529,0.088),(0.534,0.099),(0.54,0.11),(0.546,0.121),(0.552,0.135),(0.559,0.149),(0.565,0.16),
          (0.572,0.171),(0.578,0.181),(0.584,0.19),(0.60,0.189),(0.615,0.185),(0.63,0.176),(0.645,0.168),
          (0.661,0.163),(0.678,0.16),(0.694,0.157),(0.711,0.154),(0.728,0.154),(0.745,0.154),(0.762,0.155),
          (0.78,0.157),(0.797,0.16),(0.813,0.162),(0.829,0.163),(0.845,0.164),(0.862,0.163),(0.88,0.162),
          (0.897,0.16),(0.914,0.157),(0.93,0.155),(0.947,0.154),(0.964,0.151),(0.982,0.149),(0.998,0.146),
          (1.014,0.143),(1.032,0.141),(1.049,0.14),(1.065,0.137),(1.081,0.135),(1.098,0.132),(1.114,0.13),
          (1.132,0.127),(1.149,0.124),(1.166,0.121),(1.183,0.119),(1.20,0.117),(1.216,0.116),(1.23,0.113),
          (1.245,0.11),(1.26,0.107),(1.274,0.105),(1.288,0.102),(1.302,0.099),(1.315,0.094),(1.327,0.088),
          (1.336,0.083),(1.345,0.077),(1.356,0.07)]
wc_iasm = [(0.227,-0.268),(0.241,-0.272),(0.255,-0.277),(0.27,-0.283),(0.284,-0.29),(0.297,-0.295),
           (0.309,-0.299),(0.32,-0.299),(0.332,-0.296),(0.345,-0.288),(0.357,-0.277),(0.369,-0.263),
           (0.38,-0.246),(0.39,-0.225),(0.40,-0.202),(0.41,-0.18),(0.419,-0.159),(0.428,-0.135),
           (0.438,-0.109),(0.447,-0.085),(0.457,-0.06),(0.466,-0.033),(0.476,-0.005),(0.484,0.017),
           (0.492,0.039),(0.50,0.062),(0.507,0.083),(0.515,0.105),(0.524,0.127),(0.534,0.145),(0.544,0.16),
           (0.553,0.173),(0.563,0.184),(0.572,0.187),(0.582,0.187),(0.592,0.182),(0.601,0.176),(0.61,0.169),
           (0.62,0.162),(0.632,0.155),(0.645,0.149),(0.658,0.143),(0.672,0.138),(0.688,0.134),(0.703,0.131),
           (0.716,0.131),(0.73,0.132),(0.748,0.137),(0.765,0.143),(0.784,0.149),(0.803,0.154),(0.822,0.156),
           (0.841,0.157),(0.86,0.157),(0.88,0.156),(0.899,0.154),(0.918,0.152),(0.942,0.148),(0.966,0.145),
           (0.99,0.142),(1.014,0.14),(1.043,0.136),(1.072,0.132),(1.10,0.127),(1.129,0.123),(1.158,0.12),
           (1.187,0.116),(1.216,0.112),(1.245,0.107),(1.27,0.103),(1.293,0.099),(1.313,0.092),(1.331,0.085),
           (1.345,0.078),(1.356,0.07)]
wc_smm = [(0.227,-0.277),(0.25,-0.285),(0.271,-0.29),(0.294,-0.301),(0.317,-0.277),(0.34,-0.283),
          (0.363,-0.268),(0.38,-0.23),(0.40,-0.208),(0.411,-0.178),(0.426,-0.159),(0.434,-0.115),
          (0.453,-0.082),(0.465,-0.06),(0.476,0.008),(0.488,0.039),(0.496,0.063),(0.511,0.072),(0.521,0.107),
          (0.53,0.132),(0.546,0.153),(0.561,0.165),(0.578,0.179),(0.595,0.184),(0.615,0.201),(0.64,0.206),
          (0.668,0.209),(0.697,0.212),(0.722,0.212),(0.749,0.208),(0.774,0.201),(0.799,0.195),(0.826,0.188),
          (0.851,0.184),(0.876,0.179),(0.903,0.173),(0.928,0.165),(0.953,0.16),(0.98,0.154),(1.005,0.149),
          (1.03,0.143),(1.056,0.138),(1.081,0.132),(1.106,0.127),(1.133,0.121),(1.158,0.116),(1.183,0.111),
          (1.21,0.107),(1.235,0.102),(1.26,0.094),(1.287,0.091),(1.312,0.085),(1.337,0.077),(1.364,0.055)]
wc_exp = [(0.227,-0.307),(0.246,-0.303),(0.261,-0.301),(0.28,-0.282),(0.296,-0.266),(0.313,-0.252),
          (0.328,-0.233),(0.346,-0.224),(0.363,-0.202),(0.38,-0.20),(0.40,-0.189),(0.415,-0.142),
          (0.43,-0.12),(0.446,-0.082),(0.461,-0.06),(0.473,-0.021),(0.488,0.028),(0.503,0.074),(0.519,0.151),
          (0.534,0.189),(0.553,0.255),(0.569,0.302),(0.584,0.337),(0.603,0.343),(0.622,0.346),(0.642,0.341),
          (0.657,0.327),(0.672,0.322),(0.692,0.297),(0.707,0.289),(0.726,0.286),(0.741,0.275),(0.759,0.269),
          (0.776,0.275),(0.795,0.272),(0.811,0.253),(0.83,0.24),(0.845,0.247),(0.861,0.24),(0.88,0.22),
          (0.899,0.217),(0.918,0.22),(0.937,0.209),(0.957,0.206),(0.976,0.193),(0.995,0.193),(1.014,0.207),
          (1.033,0.193),(1.053,0.196),(1.072,0.182),(1.091,0.171),(1.11,0.168),(1.129,0.176),(1.149,0.162),
          (1.168,0.171),(1.187,0.168),(1.206,0.165),(1.225,0.165),(1.245,0.146),(1.264,0.121),(1.279,0.125),
          (1.293,0.135),(1.312,0.112),(1.327,0.09),(1.341,0.017),(1.36,0.015)]

panels = [
    [(ua_adm, ua_iasm, ua_smm, ua_exp), (va_adm, va_iasm, va_smm, va_exp), (wa_adm, wa_iasm, wa_smm, wa_exp)],
    [(ub_adm, ub_iasm, ub_smm, ub_exp), (vb_adm, vb_iasm, vb_smm, vb_exp), (wb_adm, wb_iasm, wb_smm, wb_exp)],
    [(uc_adm, uc_iasm, uc_smm, uc_exp), (vc_adm, vc_iasm, vc_smm, vc_exp), (wc_adm, wc_iasm, wc_smm, wc_exp)],
]
ylabels = [r'$\mathbf{u/V}_{\mathbf{ref}}$', r'$\mathbf{v/V}_{\mathbf{ref}}$', r'$\mathbf{w/V}_{\mathbf{ref}}$']

styles = [
    dict(color='#e8141c', lw=1.6, marker='s', ms=3.0, mfc='#dd0000', mec='#dd0000', mew=0.5),
    dict(color='#2ecc2e', lw=1.6, marker='o', ms=1.4, mfc='#1a9a1a', mec='#1a9a1a'),
    dict(color='#3040ff', lw=1.1, marker='^', ms=4.0, mfc='white', mec='#3040ff', mew=0.8),
    dict(color='black', lw=0, ls='none', marker='o', ms=2.3, mfc='black', mec='black'),
]

W, H = 1082, 1012
fig = plt.figure(figsize=(W / 100, H / 100), dpi=100)
col_left = [71, 404, 734]
col_w = [278, 275, 278]
row_top = [32, 355, 677]
ax_h = 244

fmt = FuncFormatter(lambda v, p: ('%g' % round(v, 3)))

for r in range(3):
    for c in range(3):
        ax = fig.add_axes([col_left[c] / W, 1 - (row_top[r] + ax_h) / H, col_w[c] / W, ax_h / H])
        for name, data, st in zip(series_names, panels[r][c], styles):
            xs = [p[0] for p in data]
            ys = [p[1] for p in data]
            ax.plot(xs, ys, label=name, zorder=3 if name != 'EXP' else 4, **st)
        ax.set_xlim(0, 1.6)
        if c == 0:
            ax.set_ylim(0.6, 1.8)
            ax.set_yticks(u_ticks)
        else:
            ax.set_ylim(-0.4, 0.4)
            ax.set_yticks(vw_ticks)
        ax.set_xticks(x_ticks)
        ax.xaxis.set_minor_locator(MultipleLocator(0.1))
        ax.yaxis.set_minor_locator(MultipleLocator(0.1 if c == 0 else 0.05))
        ax.xaxis.set_major_formatter(fmt)
        ax.yaxis.set_major_formatter(fmt)
        ax.grid(True, which='major', color='#cfcfcf', lw=0.8)
        ax.set_axisbelow(True)
        ax.tick_params(which='both', direction='in', labelsize=8.5, pad=2, color='#333333')
        ax.tick_params(which='major', length=5, width=1.0)
        ax.tick_params(which='minor', length=3, width=0.8)
        for s in ['left', 'bottom']:
            ax.spines[s].set_color('#333333')
            ax.spines[s].set_linewidth(1.4)
        for s in ['top', 'right']:
            ax.spines[s].set_color('#cfcfcf')
            ax.spines[s].set_linewidth(0.8)
        ax.set_xlabel('y/R', fontsize=14, fontweight='bold', fontstyle='italic', labelpad=0)
        ax.set_ylabel(ylabels[c], fontsize=15, labelpad=3)
        leg = ax.legend(loc='upper right', bbox_to_anchor=(1.03, 1.015), borderaxespad=0,
                        fontsize=6.5, frameon=True, fancybox=False, edgecolor='#a0a0a0',
                        handlelength=4.6, handletextpad=1.2, labelspacing=0.2, borderpad=0.5,
                        framealpha=1)
        leg.get_frame().set_linewidth(0.8)
        leg.set_zorder(10)

cap_y = [327, 648, 983]
cap_lab_x = [448, 442, 430]
cap_beta_x = [507, 500, 487]
cap_val_x = [520, 513, 506]
for i in range(3):
    yy = 1 - cap_y[i] / H
    fig.text(cap_lab_x[i] / W, yy, caption_labels[i], ha='left', va='center', fontsize=15,
             family=['Noto Sans CJK SC', 'DejaVu Sans'])
    fig.text(cap_beta_x[i] / W, yy, 'β', ha='left', va='center', fontsize=16, fontstyle='italic',
             family=['Liberation Serif', 'DejaVu Serif'], color='#1a2a60')
    fig.text(cap_val_x[i] / W, yy, caption_values[i], ha='left', va='center', fontsize=16,
             family=['Liberation Serif', 'DejaVu Serif'])

fig.savefig('out.png', dpi=100)
